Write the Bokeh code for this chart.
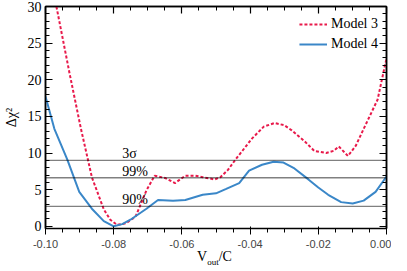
from bokeh.plotting import figure
from bokeh.models import Span, Label, FixedTicker, LinearAxis, Range1d, Div
from bokeh.layouts import column
from bokeh.embed import file_html
from bokeh.resources import INLINE

# Model 3 (red dotted)
m3_x = [-0.0968, -0.0930, -0.0896, -0.0864, -0.0829, -0.0810, -0.0790, -0.0765, -0.0736,
        -0.0704, -0.0680, -0.0650, -0.0620, -0.0590, -0.0560, -0.0539, -0.0504, -0.0487,
        -0.0465, -0.0443, -0.0394, -0.0360, -0.0328, -0.0300, -0.0278, -0.0240, -0.0212,
        -0.0177, -0.0155, -0.0140, -0.0113, -0.0090, -0.0067, -0.0026, -0.0003, 0.0]
m3_y = [30.0, 21.0, 13.3, 6.7, 2.3, 0.9, 0.2, 0.4, 1.3,
        4.9, 6.9, 6.6, 5.9, 6.9, 6.9, 6.7, 6.4, 6.7,
        7.7, 9.1, 12.0, 13.6, 14.1, 13.8, 13.1, 11.6, 10.3,
        10.0, 10.3, 10.9, 9.6, 11.0, 13.3, 17.3, 22.3, 22.8]

# Model 4 (blue solid)
m4_x = [-0.1000, -0.0974, -0.0936, -0.0901, -0.0864, -0.0829, -0.0800, -0.0775, -0.0751,
        -0.0704, -0.0670, -0.0626, -0.0590, -0.0539, -0.0500, -0.0470, -0.0432, -0.0403,
        -0.0365, -0.0331, -0.0302, -0.0270, -0.0229, -0.0200, -0.0171, -0.0133, -0.0099,
        -0.0067, -0.0032, 0.0]
m4_y = [17.7, 13.3, 9.1, 4.7, 2.4, 0.7, 0.0, 0.3, 0.9,
        2.4, 3.6, 3.5, 3.6, 4.3, 4.5, 5.1, 5.9, 7.6,
        8.4, 8.8, 8.7, 7.9, 6.4, 5.3, 4.3, 3.3, 3.1,
        3.5, 4.7, 6.8]

# Confidence levels
cl_values = [9.0, 6.63, 2.71]
cl_labels = ["3σ", "99%", "90%"]

x_major = [-0.10, -0.08, -0.06, -0.04, -0.02, 0.00]
x_minor = [round(-0.10 + 0.005 * i, 4) for i in range(21)]
y_major = [0, 5, 10, 15, 20, 25, 30]
y_minor = list(range(0, 31))

FONT = "Liberation Serif"
RED = "#e8194a"
BLUE = "#3a87c8"

p = figure(width=391, height=250, output_backend="svg", toolbar_location=None,
           x_range=Range1d(-0.10, 0.0), y_range=Range1d(-0.3, 30),
           min_border_left=41, min_border_right=5, min_border_top=6, min_border_bottom=20)
p.grid.visible = False
p.outline_line_color = "black"
p.outline_line_width = 1.5

p.xaxis.ticker = FixedTicker(ticks=x_major, minor_ticks=x_minor)
p.yaxis.ticker = FixedTicker(ticks=y_major, minor_ticks=y_minor)
p.xaxis.major_label_overrides = {v: f"{v:.2f}" for v in x_major}

above = LinearAxis(ticker=FixedTicker(ticks=x_major, minor_ticks=x_minor))
right = LinearAxis(ticker=FixedTicker(ticks=y_major, minor_ticks=y_minor))
above.major_label_overrides = {v: "" for v in x_major}
right.major_label_overrides = {v: "" for v in y_major}
p.add_layout(above, "above")
p.add_layout(right, "right")

for ax in [p.xaxis[0], p.yaxis[0], above, right]:
    ax.major_tick_in = 7
    ax.major_tick_out = 0
    ax.minor_tick_in = 4
    ax.minor_tick_out = 0
    ax.axis_line_color = "black"
    ax.axis_line_width = 1.5
    ax.major_tick_line_color = "black"
    ax.minor_tick_line_color = "black"
    ax.major_tick_line_width = 1.2
    ax.minor_tick_line_width = 1
    ax.major_label_text_font = FONT
    ax.axis_label_text_font = FONT
    ax.major_label_text_color = "black"
    ax.major_label_text_font_size = "14px"
    ax.axis_label_text_font_style = "normal"
    ax.axis_label_text_color = "black"
above.major_label_standoff = 0
right.major_label_standoff = 0
p.yaxis[0].major_label_standoff = 4
p.xaxis[0].major_label_standoff = 4

p.yaxis[0].axis_label = "Δχ²"
p.yaxis[0].axis_label_text_font_size = "14px"
p.yaxis[0].axis_label_standoff = 6

for v, t in zip(cl_values, cl_labels):
    p.add_layout(Span(location=v, dimension="width", line_color="black",
                      line_dash="1 1", line_width=1.3))
    p.add_layout(Label(x=-0.0775, y=v, text=t, text_font=FONT, text_font_size="14px",
                       text_color="black", y_offset=-1))

p.line(m3_x, m3_y, line_color=RED, line_width=2, line_dash="3 2", legend_label="Model 3")
p.line(m4_x, m4_y, line_color=BLUE, line_width=2, legend_label="Model 4")

p.legend.location = "top_right"
p.legend.background_fill_alpha = 0
p.legend.border_line_alpha = 0
p.legend.label_text_font = FONT
p.legend.label_text_font_size = "14px"
p.legend.label_text_color = "black"
p.legend.glyph_width = 28
p.legend.spacing = -4
p.legend.padding = 2
p.legend.margin = 6
p.legend.label_standoff = 4

xlabel = Div(text="V<sub style='font-size:9px'>out</sub>/C", width=60, height=18,
             margin=(0, 0, 0, 197),
             styles={"font-family": "'Liberation Serif', serif", "font-size": "14px",
                     "line-height": "14px", "color": "black"})

layout = column(p, xlabel, spacing=0)

open("out.html", "w").write(file_html(layout, INLINE))
